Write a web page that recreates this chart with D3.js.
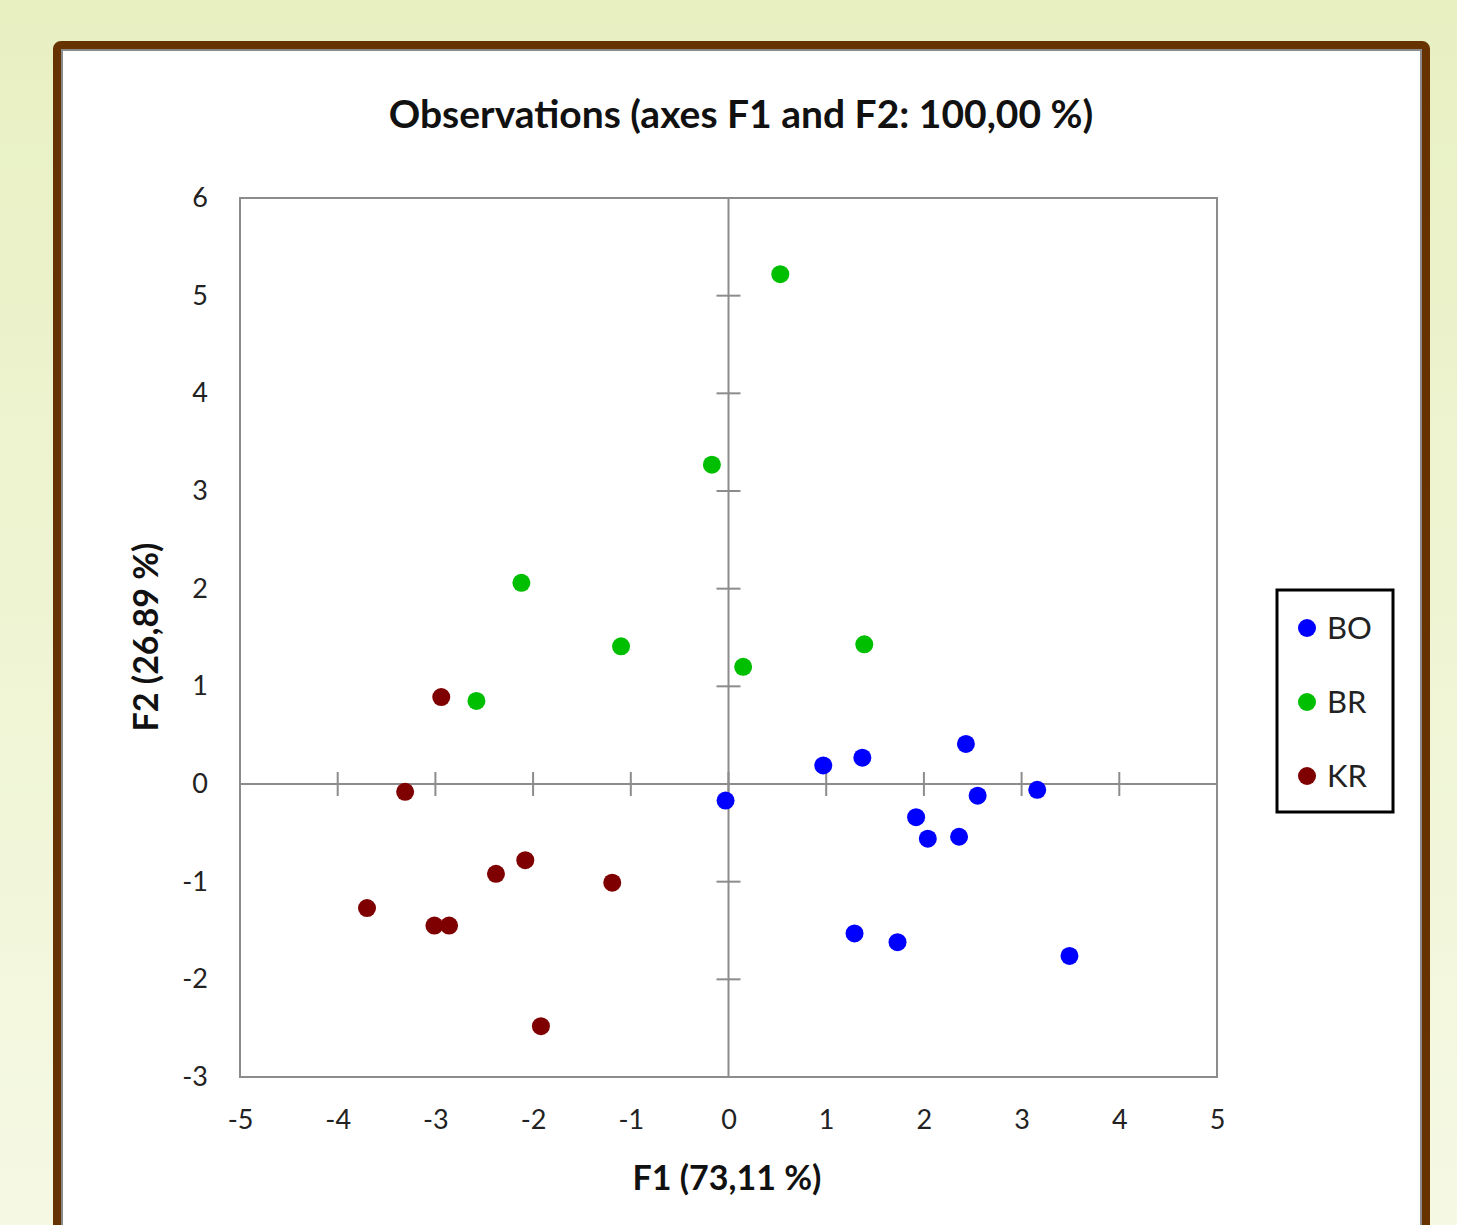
<!DOCTYPE html>
<html>
<head>
<meta charset="utf-8">
<style>
body {
  margin: 0;
  width: 1457px;
  height: 1225px;
  overflow: hidden;
  background: linear-gradient(#e8f0c2, #f5f9e4);
}
.tick text {
  font-family: Lato, "Open Sans", sans-serif;
  font-size: 27px;
  fill: #222;
}
</style>
</head>
<body>
<svg width="1457" height="1225"></svg>
<script src="https://d3js.org/d3.v7.min.js"></script>
<script>

// observations (F1, F2)
var boF1 = [0.97, 1.37, 2.43, -0.03, 2.55, 3.16, 1.92, 2.04, 2.36, 1.29, 1.73, 3.49];
var boF2 = [0.19, 0.27, 0.41, -0.17, -0.12, -0.06, -0.34, -0.56, -0.54, -1.53, -1.62, -1.76];

var brF1 = [0.53, -0.17, -2.12, -1.10, 0.15, 1.39, -2.58];
var brF2 = [5.22, 3.27, 2.06, 1.41, 1.20, 1.43, 0.85];

var krF1 = [-2.94, -3.31, -2.08, -2.38, -1.19, -3.70, -3.01, -2.86, -1.92];
var krF2 = [0.89, -0.08, -0.78, -0.92, -1.01, -1.27, -1.45, -1.45, -2.48];

var groups = ["BO", "BR", "KR"];
var colors = ["#0000ff", "#00bf00", "#7f0000"];
var xTicks = [-5, -4, -3, -2, -1, 0, 1, 2, 3, 4, 5];
var yTicks = [-3, -2, -1, 0, 1, 2, 3, 4, 5, 6];

var series = [
  {name: groups[0], color: colors[0], f1: boF1, f2: boF2},
  {name: groups[1], color: colors[1], f1: brF1, f2: brF2},
  {name: groups[2], color: colors[2], f1: krF1, f2: krF2}
];

var svg = d3.select("svg");

// outer frame
svg.append("rect")
    .attr("x", 57).attr("y", 45)
    .attr("width", 1369).attr("height", 1220)
    .attr("rx", 4)
    .attr("fill", "#fff")
    .attr("stroke", "#663300")
    .attr("stroke-width", 8);
svg.append("rect")
    .attr("x", 62).attr("y", 50)
    .attr("width", 1359).attr("height", 1220)
    .attr("fill", "none")
    .attr("stroke", "#8a8a8a")
    .attr("stroke-width", 2);

var pLeft = 240, pRight = 1217, pTop = 198, pBottom = 1077;

var x = d3.scaleLinear().domain([-5, 5]).range([pLeft, pRight]);
var y = d3.scaleLinear().domain([-3, 6]).range([pBottom, pTop]);

svg.append("text")
    .attr("x", 741).attr("y", 128)
    .attr("text-anchor", "middle")
    .attr("font-family", "Lato, sans-serif")
    .attr("font-weight", "bold")
    .attr("font-size", 39)
    .attr("fill", "#111")
    .text("Observations (axes F1 and F2: 100,00 %)");

// plot border
svg.append("rect")
    .attr("x", pLeft).attr("y", pTop)
    .attr("width", pRight - pLeft).attr("height", pBottom - pTop)
    .attr("fill", "none")
    .attr("stroke", "#8c8c8c")
    .attr("stroke-width", 2);

// tick labels on the outer edges
var xAxis = svg.append("g")
    .attr("transform", "translate(0," + pBottom + ")")
    .call(d3.axisBottom(x).tickValues(xTicks).tickFormat(String).tickSize(0).tickPadding(33));
xAxis.select(".domain").remove();

var yAxis = svg.append("g")
    .attr("transform", "translate(" + pLeft + ",0)")
    .call(d3.axisLeft(y).tickValues(yTicks).tickFormat(String).tickSize(0).tickPadding(32));
yAxis.select(".domain").remove();

// zero lines with crossing ticks
var zero = svg.append("g").attr("stroke", "#8c8c8c").attr("stroke-width", 2);
zero.append("line")
    .attr("x1", pLeft).attr("x2", pRight)
    .attr("y1", y(0)).attr("y2", y(0));
zero.append("line")
    .attr("x1", x(0)).attr("x2", x(0))
    .attr("y1", pTop).attr("y2", pBottom);
zero.selectAll(".xt")
    .data(xTicks.filter(function(d) { return d > -5 && d < 5; }))
  .enter().append("line")
    .attr("x1", function(d) { return x(d); })
    .attr("x2", function(d) { return x(d); })
    .attr("y1", y(0) - 12).attr("y2", y(0) + 12);
zero.selectAll(".yt")
    .data(yTicks.filter(function(d) { return d > -3 && d < 6; }))
  .enter().append("line")
    .attr("x1", x(0) - 12).attr("x2", x(0) + 12)
    .attr("y1", function(d) { return y(d); })
    .attr("y2", function(d) { return y(d); });

// points
series.forEach(function(s) {
  svg.append("g").selectAll("circle")
      .data(s.f1.map(function(v, i) { return [v, s.f2[i]]; }))
    .enter().append("circle")
      .attr("cx", function(d) { return x(d[0]); })
      .attr("cy", function(d) { return y(d[1]); })
      .attr("r", 9)
      .attr("fill", s.color);
});

// axis titles
svg.append("text")
    .attr("x", 727).attr("y", 1190)
    .attr("text-anchor", "middle")
    .attr("font-family", "Lato, sans-serif")
    .attr("font-weight", "bold")
    .attr("font-size", 34)
    .attr("fill", "#111")
    .text("F1 (73,11 %)");

svg.append("text")
    .attr("transform", "translate(158,637) rotate(-90)")
    .attr("text-anchor", "middle")
    .attr("font-family", "Lato, sans-serif")
    .attr("font-weight", "bold")
    .attr("font-size", 34)
    .attr("fill", "#111")
    .text("F2 (26,89 %)");

// legend
var legend = svg.append("g");
legend.append("rect")
    .attr("x", 1277).attr("y", 590)
    .attr("width", 116).attr("height", 222)
    .attr("fill", "#fff")
    .attr("stroke", "#000")
    .attr("stroke-width", 3);
var item = legend.selectAll(".item")
    .data(series)
  .enter().append("g")
    .attr("transform", function(d, i) { return "translate(1307," + (628 + i * 74) + ")"; });
item.append("circle")
    .attr("r", 9)
    .attr("fill", function(d) { return d.color; });
item.append("text")
    .attr("x", 20).attr("y", 11)
    .attr("font-family", "Lato, sans-serif")
    .attr("font-size", 31)
    .attr("fill", "#222")
    .text(function(d) { return d.name; });

</script>
</body>
</html>
